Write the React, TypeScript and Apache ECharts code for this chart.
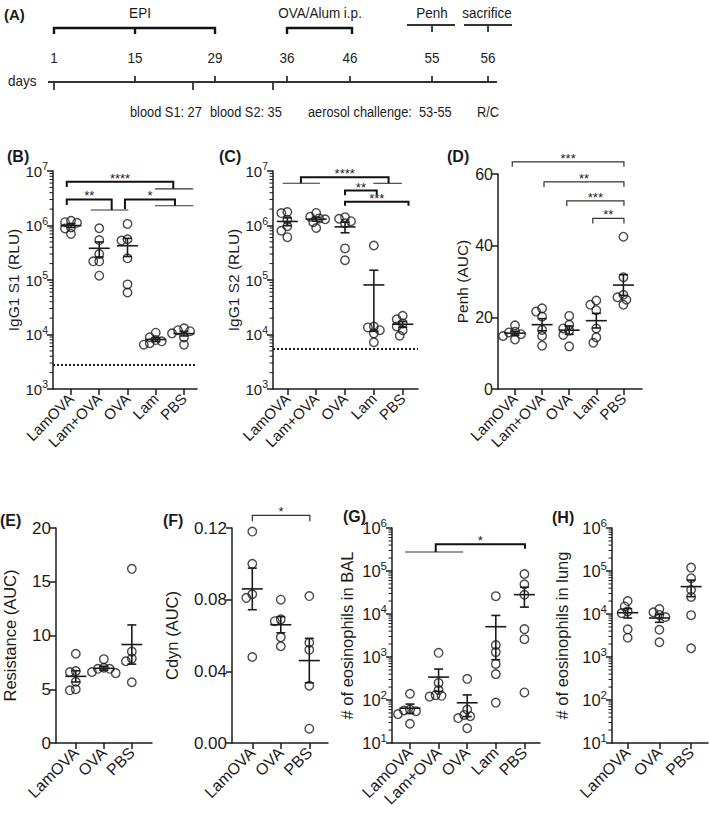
import React, { useEffect, useRef } from "react";
import * as echarts from "echarts";

const FONT = "'Liberation Sans', Arial, Helvetica, sans-serif";
const INK = "#1b1b1b";

// ---------- categories ----------
const groupsFive = ["LamOVA", "Lam+OVA", "OVA", "Lam", "PBS"];
const groupsThree = ["LamOVA", "OVA", "PBS"];

// ---------- (B) IgG1 S1 (RLU) ----------
const igg1S1: number[][] = [
  [1.22e6, 1.12e6, 1.15e6, 0.92e6, 0.88e6, 0.7e6],
  [8.9e5, 5.4e5, 3.0e5, 2.2e5, 2.2e5, 1.2e5],
  [1.07e6, 5.6e5, 5.3e5, 2.5e5, 8.3e4, 5.9e4],
  [1.08e4, 8.9e3, 7.9e3, 7.5e3, 6.9e3, 6.5e3],
  [1.3e4, 1.2e4, 1.15e4, 1.05e4, 8.8e3, 6.5e3],
];
const igg1S1Cutoff = 2.8e3;

// ---------- (C) IgG1 S2 (RLU) ----------
const igg1S2: number[][] = [
  [1.77e6, 1.69e6, 1.28e6, 9.7e5, 8.0e5, 6.1e5],
  [1.7e6, 1.45e6, 1.35e6, 1.3e6, 1.15e6, 9.0e5],
  [1.42e6, 1.33e6, 1.2e6, 1.1e6, 3.8e5, 2.3e5],
  [4.3e5, 1.4e4, 1.35e4, 1.2e4, 1.05e4, 7.2e3],
  [2.2e4, 1.9e4, 1.6e4, 1.4e4, 1.2e4, 9.5e3],
];
const igg1S2Cutoff = 5.4e3;

// ---------- (D) Penh (AUC) ----------
const penh: number[][] = [
  [17.8, 16.0, 15.8, 15.3, 14.8, 13.8],
  [22.5, 21.6, 20.2, 16.5, 14.8, 12.1],
  [20.4, 17.9, 16.9, 16.3, 15.1, 11.9],
  [24.7, 23.5, 22.0, 16.9, 14.4, 12.9],
  [42.5, 31.2, 26.3, 25.6, 24.9, 23.5],
];

// ---------- (E) Resistance (AUC) ----------
const resistance: number[][] = [
  [8.3, 6.7, 6.6, 5.7, 5.0, 4.9],
  [7.8, 7.0, 6.9, 6.9, 6.6, 6.5],
  [16.2, 8.5, 7.85, 7.6, 5.65],
];

// ---------- (F) Cdyn (AUC) ----------
const cdyn: number[][] = [
  [0.118, 0.1, 0.083, 0.081, 0.048],
  [0.08, 0.069, 0.068, 0.059, 0.054],
  [0.082, 0.056, 0.052, 0.032, 0.008],
];

// ---------- (G) # of eosinophils in BAL ----------
const eosBAL: number[][] = [
  [140, 60, 57, 55, 47, 28],
  [1250, 250, 170, 130, 125, 120],
  [310, 60, 45, 42, 38, 22],
  [26000, 1900, 1300, 690, 400, 87],
  [85000, 49000, 28000, 4450, 2600, 150],
];

// ---------- (H) # of eosinophils in lung ----------
const eosLung: number[][] = [
  [20000, 15000, 11500, 10500, 4400, 2800],
  [13000, 11000, 9500, 8500, 4300, 2200],
  [120000, 68000, 36000, 25000, 9400, 1600],
];

// ---------- significance annotations (data units: group index, y value) ----------
type Bracket = { a: number; b: number; y: number; ea: number; eb: number; label: string; heavy: boolean };
type GroupLine = { a: number; b: number; y: number };

const bBrackets: Bracket[] = [
  { a: -0.15, b: 3.62, y: 6.37e6, ea: 5.1e6, eb: 4.7e6, label: "****", heavy: true },
  { a: -0.15, b: 1.44, y: 3.0e6, ea: 2.38e6, eb: 1.92e6, label: "**", heavy: true },
  { a: 1.91, b: 3.68, y: 3.0e6, ea: 2.0e6, eb: 2.3e6, label: "*", heavy: true },
];
const bLines: GroupLine[] = [
  { a: 2.97, b: 4.33, y: 4.7e6 },
  { a: 0.7, b: 2.03, y: 1.92e6 },
  { a: 2.97, b: 4.33, y: 2.3e6 },
];
const cBrackets: Bracket[] = [
  { a: 0.47, b: 3.51, y: 7.66e6, ea: 5.95e6, eb: 5.95e6, label: "****", heavy: true },
  { a: 2.0, b: 3.1, y: 4.37e6, ea: 3.6e6, eb: 3.6e6, label: "**", heavy: true },
  { a: 2.0, b: 4.2, y: 2.74e6, ea: 2.3e6, eb: 2.3e6, label: "***", heavy: true },
];
const cLines: GroupLine[] = [
  { a: -0.16, b: 1.13, y: 5.95e6 },
  { a: 2.98, b: 3.97, y: 5.95e6 },
];
const dBrackets: Bracket[] = [
  { a: -0.1, b: 4.02, y: 63.4, ea: 62.0, eb: 62.0, label: "***", heavy: false },
  { a: 1.07, b: 4.02, y: 57.8, ea: 56.4, eb: 56.4, label: "**", heavy: false },
  { a: 1.91, b: 4.02, y: 52.5, ea: 51.1, eb: 51.1, label: "***", heavy: false },
  { a: 2.87, b: 4.02, y: 47.6, ea: 46.2, eb: 46.2, label: "**", heavy: false },
];
const fBrackets: Bracket[] = [
  { a: 0, b: 2.02, y: 0.1271, ea: 0.1237, eb: 0.1237, label: "*", heavy: false },
];
const gBrackets: Bracket[] = [
  { a: 0.9, b: 4.02, y: 4.2e5, ea: 2.76e5, eb: 3.3e5, label: "*", heavy: true },
];
const gLines: GroupLine[] = [{ a: -0.17, b: 1.86, y: 2.76e5 }];

// ---------- panel A timeline texts ----------
const tlPhases = ["EPI", "OVA/Alum i.p.", "Penh", "sacrifice"];
const tlDays = ["1", "15", "29", "36", "46", "55", "56"];
const tlNotes = ["blood S1: 27", "blood S2: 35", "aerosol challenge:  53-55", "R/C"];

// schematic layout of panel A (not to scale)
const TL = {
  phaseX: [140, 320, 432, 487],
  dayX: [54, 135, 215, 287, 350, 432, 488],
  upTicks: [135, 215, 287, 350, 432, 488],
  downTicks: [54, 193, 273],
  noteX: [130, 210, 308, 477],
};

type Panel = {
  letter: string; lx: number; ly: number;
  cats: string[]; groups: number[][];
  log: boolean; yMin: number; yMax: number; yTicks?: number[]; yDec?: number;
  yName: string; nameGap: number;
  left: number; top: number; width: number; height: number; xMin: number; xMax: number;
  brackets: Bracket[]; lines: GroupLine[]; cutoff?: number;
  tickFont: number; supFont: number; titleFont: number; catFont: number;
};

const panels: Panel[] = [
  { letter: "(B)", lx: 7, ly: 156, cats: groupsFive, groups: igg1S1, log: true, yMin: 1e3, yMax: 1e7,
    yName: "IgG1 S1 (RLU)", nameGap: 31, left: 53, top: 171, width: 144, height: 218, xMin: -0.637, xMax: 4.46,
    brackets: bBrackets, lines: bLines, cutoff: igg1S1Cutoff, tickFont: 15, supFont: 10.5, titleFont: 15.5, catFont: 15 },
  { letter: "(C)", lx: 219, ly: 156, cats: groupsFive, groups: igg1S2, log: true, yMin: 1e3, yMax: 1e7,
    yName: "IgG1 S2 (RLU)", nameGap: 28, left: 273, top: 171, width: 145, height: 218, xMin: -0.497, xMax: 4.53,
    brackets: cBrackets, lines: cLines, cutoff: igg1S2Cutoff, tickFont: 15, supFont: 10.5, titleFont: 15.5, catFont: 15 },
  { letter: "(D)", lx: 447, ly: 156, cats: groupsFive, groups: penh, log: false, yMin: 0, yMax: 60, yTicks: [0, 20, 40, 60], yDec: 0,
    yName: "Penh (AUC)", nameGap: 28, left: 498, top: 174, width: 144, height: 215, xMin: -0.627, xMax: 4.686,
    brackets: dBrackets, lines: [], tickFont: 16, supFont: 11, titleFont: 15.5, catFont: 15 },
  { letter: "(E)", lx: 0, ly: 520, cats: groupsThree, groups: resistance, log: false, yMin: 0, yMax: 20, yTicks: [0, 5, 10, 15, 20], yDec: 0,
    yName: "Resistance (AUC)", nameGap: 38, left: 55, top: 528, width: 97, height: 215, xMin: -0.707, xMax: 2.72,
    brackets: [], lines: [], tickFont: 17, supFont: 12, titleFont: 16.5, catFont: 16 },
  { letter: "(F)", lx: 163, ly: 520, cats: groupsThree, groups: cdyn, log: false, yMin: 0, yMax: 0.12, yTicks: [0, 0.04, 0.08, 0.12], yDec: 2,
    yName: "Cdyn (AUC)", nameGap: 52, left: 232, top: 528, width: 96, height: 215, xMin: -0.712, xMax: 2.656,
    brackets: fBrackets, lines: [], tickFont: 17, supFont: 12, titleFont: 16.5, catFont: 16 },
  { letter: "(G)", lx: 343, ly: 516, cats: groupsFive, groups: eosBAL, log: true, yMin: 10, yMax: 1e6,
    yName: "# of eosinophils in BAL", nameGap: 37, left: 392, top: 528, width: 148, height: 215, xMin: -0.629, xMax: 4.545,
    brackets: gBrackets, lines: gLines, tickFont: 16.5, supFont: 11.5, titleFont: 16.5, catFont: 16 },
  { letter: "(H)", lx: 552, ly: 517, cats: groupsThree, groups: eosLung, log: true, yMin: 10, yMax: 1e6,
    yName: "# of eosinophils in lung", nameGap: 42, left: 612, top: 528, width: 96, height: 215, xMin: -0.495, xMax: 2.533,
    brackets: [], lines: [], tickFont: 16.5, supFont: 11.5, titleFont: 16.5, catFont: 16 },
];

function stats(g: number[]) {
  const n = g.length;
  const m = g.reduce((a, b) => a + b, 0) / n;
  const sd = Math.sqrt(g.reduce((a, b) => a + (b - m) * (b - m), 0) / (n - 1));
  return { m, sem: sd / Math.sqrt(n) };
}

// deterministic beeswarm: horizontal offsets (in data units) so circles do not pile up
function swarm(g: number[], toPx: (v: number) => number, pxPerX: number): number[] {
  const order = g.map((_, i) => i).sort((a, b) => g[b] - g[a]);
  const placed: { x: number; y: number }[] = [];
  const out = new Array(g.length).fill(0);
  const minD = 5.6;
  const step = 3;
  for (const i of order) {
    const y = toPx(g[i]);
    let chosen = 0;
    for (let k = 0; k < 60; k++) {
      const dx = (k % 2 === 0 ? 1 : -1) * Math.ceil(k / 2) * step;
      if (placed.every((p) => Math.hypot(p.x - dx, p.y - y) >= minD)) {
        chosen = dx;
        break;
      }
    }
    placed.push({ x: chosen, y });
    out[i] = chosen / pxPerX;
  }
  return out;
}

function buildOption() {
  const grid: any[] = [];
  const xAxis: any[] = [];
  const yAxis: any[] = [];
  const series: any[] = [];
  const graphic: any[] = [];

  panels.forEach((p, i) => {
    grid.push({ left: p.left, top: p.top, width: p.width, height: p.height, containLabel: false });
    const catIdx = p.cats.map((_, k) => k);
    xAxis.push({
      gridIndex: i, type: "value", min: p.xMin, max: p.xMax,
      axisLine: { show: true, onZero: false, lineStyle: { color: INK, width: 1.5 } },
      axisTick: { show: true, inside: false, length: 6, customValues: catIdx, lineStyle: { color: INK, width: 1.5 } },
      axisLabel: {
        customValues: catIdx, rotate: 45, fontSize: p.catFont, color: INK, margin: 7, fontFamily: FONT,
        formatter: (v: number) => p.cats[Math.round(v)] ?? "",
      },
      splitLine: { show: false },
    });
    const decades = Math.round(Math.log10(p.yMax) - Math.log10(p.yMin));
    yAxis.push({
      gridIndex: i, type: p.log ? "log" : "value", logBase: 10, min: p.yMin, max: p.yMax,
      splitNumber: p.log ? decades : undefined,
      axisLine: { show: true, onZero: false, lineStyle: { color: INK, width: 1.5 } },
      axisTick: { show: true, inside: false, length: 6, customValues: p.log ? undefined : p.yTicks, lineStyle: { color: INK, width: 1.5 } },
      axisLabel: {
        customValues: p.log ? undefined : p.yTicks, fontSize: p.tickFont, color: INK, margin: 5, fontFamily: FONT,
        formatter: p.log
          ? (v: number) => `{b|10}{s|${Math.round(Math.log10(v))}}`
          : (v: number) => v.toFixed(p.yDec ?? 0),
        rich: p.log
          ? {
              b: { fontSize: p.tickFont, color: INK, fontFamily: FONT, lineHeight: p.tickFont + 6 },
              s: { fontSize: p.supFont, color: INK, fontFamily: FONT, verticalAlign: "top", lineHeight: p.supFont + 1 },
            }
          : undefined,
      },
      splitLine: { show: false },
      name: p.yName, nameLocation: "middle", nameGap: p.nameGap,
      nameTextStyle: { fontSize: p.titleFont, color: INK, fontFamily: FONT },
    });

    // scatter points
    const lo = p.log ? Math.log10(p.yMin) : p.yMin;
    const hi = p.log ? Math.log10(p.yMax) : p.yMax;
    const toPx = (v: number) => ((p.log ? Math.log10(v) : v) - lo) / (hi - lo) * p.height;
    const pxPerX = p.width / (p.xMax - p.xMin);
    const pts: number[][] = [];
    p.groups.forEach((g, gi) => {
      const off = swarm(g, toPx, pxPerX);
      g.forEach((v, k) => pts.push([gi + off[k], v]));
    });
    series.push({
      type: "scatter", xAxisIndex: i, yAxisIndex: i, data: pts, symbol: "circle", symbolSize: 8.5,
      itemStyle: { color: "rgba(0,0,0,0)", borderColor: INK, borderWidth: 1.4 }, silent: true, z: 3,
      markLine: p.cutoff
        ? {
            symbol: ["none", "none"], silent: true, label: { show: false },
            lineStyle: { type: [2, 2], color: INK, width: 1.8 },
            data: [{ yAxis: p.cutoff }],
          }
        : undefined,
    });

    // mean +/- SEM
    const ebData = p.groups.map((g, gi) => {
      const s = stats(g);
      return [gi, s.m, Math.max(s.m - s.sem, p.log ? p.yMin * 1.01 : -1e9), s.m + s.sem];
    });
    series.push({
      type: "custom", xAxisIndex: i, yAxisIndex: i, data: ebData, silent: true, z: 4, clip: false,
      encode: { x: 0, y: 1 },
      renderItem: (_params: any, api: any) => {
        const x = api.value(0);
        const pm = api.coord([x, api.value(1)]);
        const pl = api.coord([x, api.value(2)]);
        const ph = api.coord([x, api.value(3)]);
        const st = { stroke: INK, lineWidth: 1.6 };
        return {
          type: "group",
          children: [
            { type: "line", shape: { x1: pm[0] - 10.5, y1: pm[1], x2: pm[0] + 10.5, y2: pm[1] }, style: st },
            { type: "line", shape: { x1: pm[0], y1: ph[1], x2: pm[0], y2: pl[1] }, style: st },
            { type: "line", shape: { x1: pm[0] - 4.5, y1: ph[1], x2: pm[0] + 4.5, y2: ph[1] }, style: st },
            { type: "line", shape: { x1: pm[0] - 4.5, y1: pl[1], x2: pm[0] + 4.5, y2: pl[1] }, style: st },
          ],
        };
      },
    });

    // log minor ticks
    if (p.log) {
      const minor: number[][] = [];
      for (let e = Math.round(Math.log10(p.yMin)); e < Math.round(Math.log10(p.yMax)); e++) {
        for (let m = 2; m <= 9; m++) minor.push([0, m * Math.pow(10, e)]);
      }
      series.push({
        type: "custom", xAxisIndex: i, yAxisIndex: i, data: minor, silent: true, clip: false, z: 2,
        encode: { x: 0, y: 1 },
        renderItem: (params: any, api: any) => {
          const cs = params.coordSys;
          const pt = api.coord([0, api.value(1)]);
          return { type: "line", shape: { x1: cs.x - 3.5, y1: pt[1], x2: cs.x, y2: pt[1] }, style: { stroke: INK, lineWidth: 1 } };
        },
      });
    }

    // group lines
    if (p.lines.length) {
      series.push({
        type: "custom", xAxisIndex: i, yAxisIndex: i, data: p.lines.map((l) => [l.a, l.y]), silent: true, clip: false, z: 5,
        encode: { x: 0, y: 1 },
        renderItem: (params: any, api: any) => {
          const l = p.lines[params.dataIndex];
          const a = api.coord([l.a, l.y]);
          const b = api.coord([l.b, l.y]);
          return { type: "line", shape: { x1: a[0], y1: a[1], x2: b[0], y2: b[1] }, style: { stroke: "#333", lineWidth: 1.1 } };
        },
      });
    }

    // brackets
    if (p.brackets.length) {
      series.push({
        type: "custom", xAxisIndex: i, yAxisIndex: i, data: p.brackets.map((b) => [b.a, b.y]), silent: true, clip: false, z: 5,
        encode: { x: 0, y: 1 },
        renderItem: (params: any, api: any) => {
          const br = p.brackets[params.dataIndex];
          const p1 = api.coord([br.a, br.ea]);
          const p2 = api.coord([br.a, br.y]);
          const p3 = api.coord([br.b, br.y]);
          const p4 = api.coord([br.b, br.eb]);
          return {
            type: "group",
            children: [
              {
                type: "polyline",
                shape: { points: [p1, p2, p3, p4] },
                style: { stroke: br.heavy ? "#111" : "#333", lineWidth: br.heavy ? 2 : 1.2, fill: "none" },
              },
              {
                type: "text", x: (p2[0] + p3[0]) / 2, y: p2[1] - 3.5,
                style: { text: br.label, fontSize: 13, fill: INK, fontFamily: FONT, align: "center", verticalAlign: "middle", textAlign: "center", textVerticalAlign: "middle" },
              },
            ],
          };
        },
      });
    }

    graphic.push({
      type: "text", x: p.lx, y: p.ly,
      style: { text: p.letter, fontSize: 16, fontWeight: "bold", fill: INK, fontFamily: FONT, textAlign: "left", textVerticalAlign: "middle", verticalAlign: "middle" },
    });
  });

  // ---------- panel A: schematic timeline ----------
  const tStyle = (text: string, align: string, size = 13) => ({
    text, fontSize: size, fill: INK, fontFamily: FONT, textAlign: align, textVerticalAlign: "middle", align, verticalAlign: "middle",
  });
  graphic.push({ type: "text", x: 4, y: 14, style: { ...tStyle("(A)", "left", 15), fontWeight: "bold" } });
  tlPhases.forEach((t, k) => graphic.push({ type: "text", x: TL.phaseX[k], y: 13, scaleY: 1.12, style: tStyle(t, "center", 13.5) }));
  tlDays.forEach((t, k) => graphic.push({ type: "text", x: TL.dayX[k], y: 58, scaleY: 1.12, style: tStyle(t, "center", 13.5) }));
  tlNotes.forEach((t, k) => graphic.push({ type: "text", x: TL.noteX[k], y: 112, scaleY: 1.12, style: tStyle(t, "left", 12.8) }));
  graphic.push({ type: "text", x: 8, y: 81, scaleY: 1.12, style: tStyle("days", "left", 13.5) });

  const heavy = { stroke: "#111", lineWidth: 2.4, fill: "none" };
  const mid = { stroke: "#333", lineWidth: 1.8, fill: "none" };
  graphic.push({ type: "line", shape: { x1: 48, y1: 82, x2: 497, y2: 82 }, style: mid });
  TL.upTicks.forEach((x) => graphic.push({ type: "line", shape: { x1: x, y1: 76, x2: x, y2: 82 }, style: mid }));
  TL.downTicks.forEach((x) => graphic.push({ type: "line", shape: { x1: x, y1: 82, x2: x, y2: 90 }, style: mid }));
  graphic.push({ type: "polyline", shape: { points: [[54, 34], [54, 28], [215, 28], [215, 34]] }, style: heavy });
  graphic.push({ type: "line", shape: { x1: 135, y1: 28, x2: 135, y2: 34 }, style: heavy });
  graphic.push({ type: "polyline", shape: { points: [[287, 34], [287, 28], [352, 28], [352, 34]] }, style: heavy });
  graphic.push({ type: "line", shape: { x1: 407, y1: 25, x2: 455, y2: 25 }, style: mid });
  graphic.push({ type: "line", shape: { x1: 432, y1: 25, x2: 432, y2: 32 }, style: mid });
  graphic.push({ type: "line", shape: { x1: 464, y1: 25, x2: 512, y2: 25 }, style: mid });
  graphic.push({ type: "line", shape: { x1: 488, y1: 25, x2: 488, y2: 32 }, style: mid });

  return {
    animation: false,
    backgroundColor: "#ffffff",
    textStyle: { fontFamily: FONT },
    grid, xAxis, yAxis, series, graphic,
  };
}

export default function App() {
  const ref = useRef<HTMLDivElement | null>(null);
  useEffect(() => {
    if (!ref.current) return;
    const chart = echarts.init(ref.current, undefined, { renderer: "svg" });
    chart.setOption(buildOption() as any);
    return () => chart.dispose();
  }, []);
  return <div ref={ref} style={{ position: "absolute", left: 0, top: 0, width: 709, height: 824, background: "#fff" }} />;
}
